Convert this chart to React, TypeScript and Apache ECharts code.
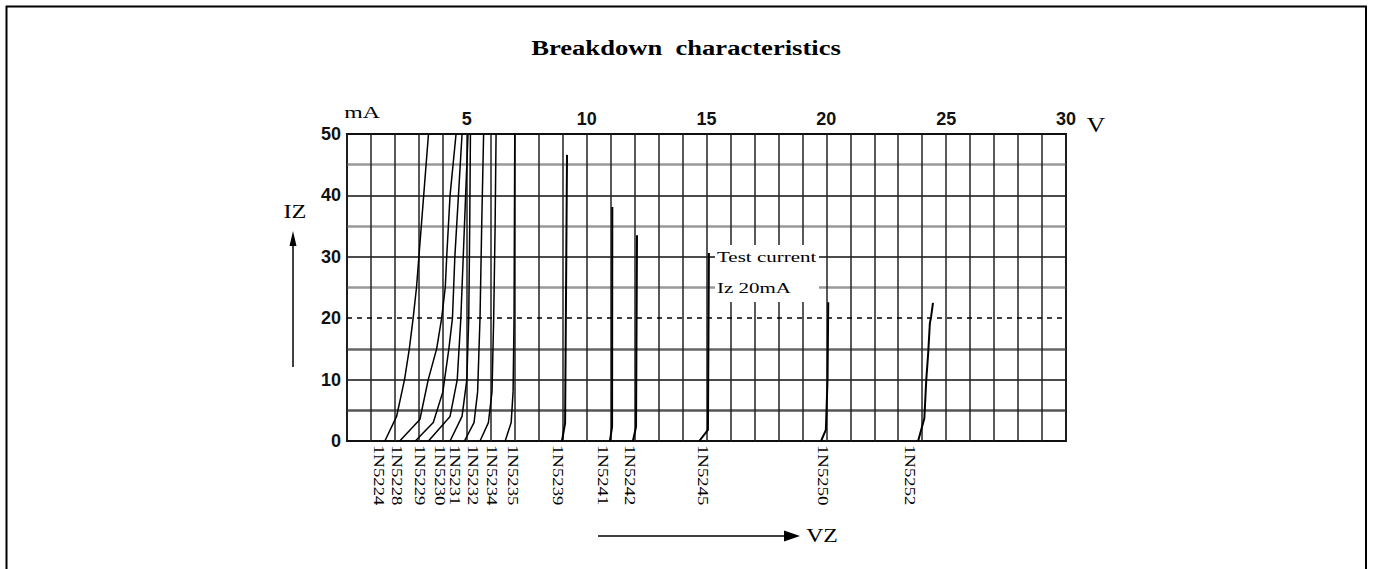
import React, { useEffect, useRef } from "react";
import * as echarts from "echarts";

// ---- data ----
const diodes = [
  "1N5224", "1N5228", "1N5229", "1N5230", "1N5231", "1N5232", "1N5234",
  "1N5235", "1N5239", "1N5241", "1N5242", "1N5245", "1N5250", "1N5252",
];

// [Vz (V), Iz (mA)]
const c1N5224 = [[1.58, 0], [2.07, 4], [2.4, 10], [2.6, 15], [2.76, 20], [2.9, 25], [3.0, 30], [3.2, 40], [3.4, 50]];
const c1N5228 = [[2.2, 0], [3.04, 3.5], [3.39, 10], [3.74, 15], [3.95, 20], [4.1, 25], [4.16, 30], [4.3, 40], [4.55, 50]];
const c1N5229 = [[2.85, 0], [3.6, 3], [4.0, 8], [4.25, 15], [4.4, 20], [4.5, 30], [4.65, 40], [4.8, 50]];
const c1N5230 = [[3.4, 0], [4.3, 4], [4.6, 10], [4.75, 20], [4.85, 30], [4.95, 40], [5.05, 50]];
const c1N5231 = [[4.3, 0], [4.8, 4], [5.0, 10], [5.08, 20], [5.12, 35], [5.15, 50]];
const c1N5232 = [[4.9, 0], [5.3, 3], [5.45, 8], [5.55, 20], [5.62, 35], [5.7, 50]];
const c1N5234 = [[5.55, 0], [5.9, 3], [6.05, 8], [6.12, 20], [6.18, 35], [6.22, 50]];
const c1N5235 = [[6.6, 0], [6.85, 3], [6.93, 8], [6.97, 20], [7.0, 50]];
const c1N5239 = [[8.97, 0], [9.1, 2.9], [9.18, 46.6]];
const c1N5241 = [[10.97, 0], [11.06, 2.3], [11.07, 38.1]];
const c1N5242 = [[11.93, 0], [12.06, 2.3], [12.1, 33.5]];
const c1N5245 = [[14.7, 0], [15.06, 1.8], [15.1, 30.6]];
const c1N5250 = [[19.78, 0], [19.98, 1.8], [20.05, 10], [20.08, 22.6]];
const c1N5252 = [[23.83, 0], [24.09, 3.7], [24.17, 10], [24.25, 14.3], [24.32, 19.2], [24.37, 20.2], [24.45, 22.5]];

const curves = [
  c1N5224, c1N5228, c1N5229, c1N5230, c1N5231, c1N5232, c1N5234,
  c1N5235, c1N5239, c1N5241, c1N5242, c1N5245, c1N5250, c1N5252,
];

// where each part-number label sits along the voltage axis (V)
const labelAnchorV = [1.34, 2.09, 3.05, 3.88, 4.51, 5.26, 6.05, 6.93, 8.8, 10.68, 11.81, 14.85, 19.86, 23.49];

const testCurrent = 20; // mA
const xRange = [0, 30];
const yRange = [0, 50];
const title = "Breakdown  characteristics";
const testText = ["Test current", "Iz 20mA"];

export default function App() {
  const ref = useRef<HTMLDivElement>(null);

  useEffect(() => {
    if (!ref.current) return;
    const chart = echarts.init(ref.current, null, { renderer: "svg" });
    const serif = '"Liberation Serif", "DejaVu Serif", serif';
    const sans = '"Liberation Sans", Arial, sans-serif';

    const series: any[] = curves.map((c, i) => ({
      type: "line",
      name: diodes[i],
      data: c,
      symbol: "none",
      showSymbol: false,
      silent: true,
      z: 10,
      lineStyle: { color: "#000", width: i >= 8 ? 2 : 1.5 },
      markLine:
        i === 0
          ? {
              silent: true,
              symbol: "none",
              label: { show: false },
              lineStyle: { color: "#000", width: 1.5, type: [5, 5] },
              data: [{ yAxis: testCurrent }],
            }
          : undefined,
    }));

    chart.setOption({
      animation: false,
      backgroundColor: "#fff",
      textStyle: { fontFamily: serif },
      grid: {
        left: 347,
        top: 134,
        width: 719,
        height: 307,
        show: true,
        borderColor: "#111",
        borderWidth: 2,
        backgroundColor: "transparent",
      },
      xAxis: [
        {
          type: "value",
          position: "top",
          min: xRange[0],
          max: xRange[1],
          interval: 1,
          z: 3,
          axisLine: { show: false },
          axisTick: { show: false },
          axisLabel: {
            margin: 6,
            color: "#111",
            fontFamily: sans,
            fontWeight: "bold",
            fontSize: 18,
            formatter: (v: number) => (v % 5 === 0 && v !== 0 ? String(v) : ""),
          },
          splitLine: { show: true, lineStyle: { color: "#222", width: 1.5 } },
        },
      ],
      yAxis: [
        {
          type: "value",
          min: yRange[0],
          max: yRange[1],
          interval: 10,
          z: 1,
          axisLine: { show: false },
          axisTick: { show: false },
          axisLabel: {
            margin: 6,
            color: "#111",
            fontFamily: sans,
            fontWeight: "bold",
            fontSize: 18,
          },
          splitLine: {
            show: true,
            lineStyle: {
              color: ["#111", "#111", "rgba(0,0,0,0)", "#111", "#111", "#111"],
              width: 1.5,
            },
          },
        },
        {
          type: "value",
          min: yRange[0],
          max: yRange[1],
          interval: 5,
          z: 1,
          position: "left",
          axisLine: { show: false },
          axisTick: { show: false },
          axisLabel: { show: false },
          splitLine: {
            show: true,
            lineStyle: {
              color: [
                "rgba(0,0,0,0)", "#555", "rgba(0,0,0,0)", "#666", "rgba(0,0,0,0)", "#999",
                "rgba(0,0,0,0)", "#999", "rgba(0,0,0,0)", "#999", "rgba(0,0,0,0)",
              ],
              width: 2.5,
            },
          },
        },
      ],
      series,
    });

    const labels = diodes.map((name, i) => {
      const p = chart.convertToPixel({ gridIndex: 0 }, [labelAnchorV[i], 0]) as number[];
      return {
        type: "text",
        x: p[0],
        y: p[1] + 4,
        rotation: -Math.PI / 2,
        scaleX: 1.25,
        z: 50,
        silent: true,
        style: {
          text: name,
          font: `15px ${serif}`,
          fill: "#000",
          align: "left",
          verticalAlign: "middle",
          textAlign: "left",
          textVerticalAlign: "middle",
        },
      };
    });

    const txt = (text: string, x: number, y: number, size: number, sx: number, align = "center", weight = "normal") => ({
      type: "text",
      x,
      y,
      scaleX: sx,
      z: 60,
      silent: true,
      style: {
        text,
        font: `${weight} ${size}px ${serif}`,
        fill: "#000",
        align,
        verticalAlign: "middle",
        textAlign: align,
        textVerticalAlign: "middle",
      },
    });

    chart.setOption({
      graphic: [
        {
          type: "polyline",
          z: 60,
          silent: true,
          shape: { points: [[6.5, 569], [6.5, 6.5], [1366, 6.5], [1366, 569]] },
          style: { stroke: "#000", lineWidth: 2, fill: null },
        },
        txt(title, 686, 48, 20, 1.33, "center", "bold"),
        txt("mA", 362, 112, 17, 1.4),
        txt("V", 1096, 125, 20, 1.3),
        txt("IZ", 295, 212, 18, 1.35),
        txt("VZ", 822, 536, 19, 1.25),
        {
          type: "rect",
          z: 55,
          silent: true,
          shape: { x: 715, y: 245, width: 104, height: 57 },
          style: { fill: "#fff", stroke: null },
        },
        txt(testText[0], 717, 257, 15, 1.4, "left"),
        txt(testText[1], 717, 288, 15, 1.4, "left"),
        {
          type: "line",
          z: 60,
          silent: true,
          shape: { x1: 293, y1: 367, x2: 293, y2: 244 },
          style: { stroke: "#000", lineWidth: 1.5 },
        },
        {
          type: "polygon",
          z: 60,
          silent: true,
          shape: { points: [[293, 231], [289.5, 246], [296.5, 246]] },
          style: { fill: "#000" },
        },
        {
          type: "line",
          z: 60,
          silent: true,
          shape: { x1: 598, y1: 536, x2: 786, y2: 536 },
          style: { stroke: "#000", lineWidth: 1.5 },
        },
        {
          type: "polygon",
          z: 60,
          silent: true,
          shape: { points: [[800, 536], [784, 530.5], [784, 541.5]] },
          style: { fill: "#000" },
        },
        ...labels,
      ],
    });

    return () => chart.dispose();
  }, []);

  return (
    <div
      ref={ref}
      style={{ position: "absolute", left: 0, top: 0, width: 1374, height: 569 }}
    />
  );
}
